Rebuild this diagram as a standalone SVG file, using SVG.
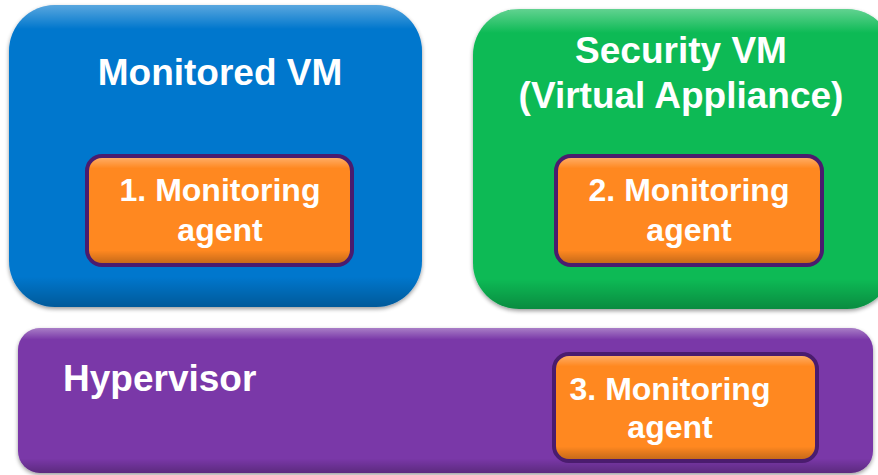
<svg xmlns="http://www.w3.org/2000/svg" width="878" height="475" viewBox="0 0 878 475">
  <defs>
    <linearGradient id="hl" x1="0" y1="0" x2="0" y2="1">
      <stop offset="0" stop-color="#ffffff" stop-opacity="0.35"/>
      <stop offset="0.08" stop-color="#ffffff" stop-opacity="0"/>
      <stop offset="0.9" stop-color="#000000" stop-opacity="0"/>
      <stop offset="1" stop-color="#000000" stop-opacity="0.25"/>
    </linearGradient>
    <linearGradient id="hlo" x1="0" y1="0" x2="0" y2="1">
      <stop offset="0" stop-color="#ffffff" stop-opacity="0.3"/>
      <stop offset="0.1" stop-color="#ffffff" stop-opacity="0"/>
      <stop offset="0.88" stop-color="#000000" stop-opacity="0"/>
      <stop offset="1" stop-color="#000000" stop-opacity="0.22"/>
    </linearGradient>
    <filter id="sh" x="-5%" y="-5%" width="110%" height="115%">
      <feGaussianBlur in="SourceAlpha" stdDeviation="2"/>
      <feOffset dy="2" result="b"/>
      <feComponentTransfer><feFuncA type="linear" slope="0.4"/></feComponentTransfer>
      <feMerge><feMergeNode/><feMergeNode in="SourceGraphic"/></feMerge>
    </filter>
  </defs>
  <style>
    .t { font-family: "Liberation Sans", Arial, sans-serif; font-weight: bold; fill: #ffffff; text-anchor: middle; }
    .big { font-size: 37px; }
    .ag { font-size: 32px; }
    .agbox { fill: #FF8820; stroke: #4A1C6E; stroke-width: 4; }
  </style>

  <g id="monitored-vm">
    <rect x="9" y="5" width="413" height="302" rx="46" fill="#0677CD" filter="url(#sh)"/>
    <rect x="9" y="5" width="413" height="302" rx="46" fill="url(#hl)"/>
    <text class="t big" x="220" y="85">Monitored VM</text>
  </g>

  <g id="agent-1">
    <rect class="agbox" x="87" y="156" width="265" height="109" rx="15"/>
    <rect x="89" y="158" width="261" height="105" rx="13" fill="url(#hlo)"/>
    <text class="t ag" x="220" y="201">1. Monitoring</text>
    <text class="t ag" x="220" y="241">agent</text>
  </g>

  <g id="security-vm">
    <rect x="473" y="9" width="420" height="300" rx="46" fill="#0ABA55" filter="url(#sh)"/>
    <rect x="473" y="9" width="420" height="300" rx="46" fill="url(#hl)"/>
    <text class="t big" x="681" y="63">Security VM</text>
    <text class="t big" x="681" y="108">(Virtual Appliance)</text>
  </g>

  <g id="agent-2">
    <rect class="agbox" x="556" y="156" width="266" height="109" rx="15"/>
    <rect x="558" y="158" width="262" height="105" rx="13" fill="url(#hlo)"/>
    <text class="t ag" x="689" y="201">2. Monitoring</text>
    <text class="t ag" x="689" y="241">agent</text>
  </g>

  <g id="hypervisor">
    <rect x="18" y="328" width="855" height="145" rx="22" fill="#7A37A8" filter="url(#sh)"/>
    <rect x="18" y="328" width="855" height="145" rx="22" fill="url(#hl)"/>
    <text class="t big" x="63" y="391" style="text-anchor:start">Hypervisor</text>
  </g>

  <g id="agent-3">
    <rect class="agbox" x="554" y="354" width="263" height="107" rx="15"/>
    <rect x="556" y="356" width="259" height="103" rx="13" fill="url(#hlo)"/>
    <text class="t ag" x="670" y="400">3. Monitoring</text>
    <text class="t ag" x="670" y="438">agent</text>
  </g>

  <g id="connectors"></g>
</svg>
